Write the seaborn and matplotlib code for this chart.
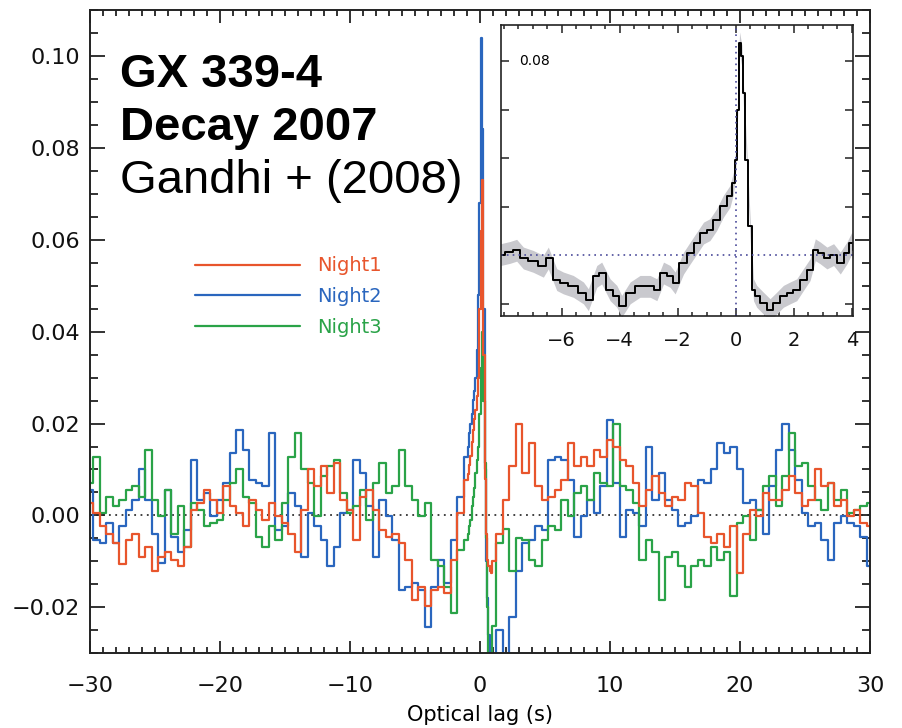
import numpy as np
import pandas as pd
import matplotlib
matplotlib.use("Agg")
import matplotlib.pyplot as plt
from matplotlib.ticker import MultipleLocator, FuncFormatter
import seaborn as sns

sns.set_style("ticks")
plt.rcParams["font.family"] = ["DejaVu Sans"]
plt.rcParams["text.color"] = "black"
plt.rcParams["axes.labelcolor"] = "black"

# lag grid (s): coarse wings, finer sampling around the peak
lag = np.round(np.concatenate([np.arange(-30, -1.25, 0.5),
                               np.arange(-1.0, 1.05, 0.1),
                               np.arange(1.5, 30.25, 0.5)]), 2)

night1 = [
    # -30 .. -1.5
    0.0027, 0.0005, -0.0024, -0.004, -0.006, -0.0105, -0.0053, -0.004, -0.009, -0.0068,
    -0.012, -0.009, -0.008, -0.0097, -0.011, -0.0068, 0.0012, 0.0027, 0.0056, 0.0034,
    0.0005, 0.0063, 0.002, 0.0005, -0.0024, 0.0034, 0.0012, -0.001, 0.0027, -0.0002,
    -0.0017, -0.004, -0.008, 0.0012, 0.010, 0.0063, 0.0107, 0.0049, 0.0114, 0.0034,
    0.0012, -0.0053, 0.0041, 0.0056, 0.0012, -0.0031, -0.0046, -0.004, -0.006, -0.0097,
    -0.0184, -0.0155, -0.0198, -0.0162, -0.0155, -0.0169, -0.0097, 0.0005,
    # -1.0 .. 1.0
    0.0078, 0.009, 0.011, 0.013, 0.016, 0.0187, 0.021, 0.023, 0.026, 0.030,
    0.045, 0.062, 0.073, 0.035, 0.008, -0.004, -0.0097, -0.011, -0.012, -0.0126, -0.010,
    # 1.5 .. 30
    -0.004, 0.0034, 0.0107, 0.020, 0.0092, 0.0158, 0.0065, 0.0034, 0.0041, 0.0056,
    0.0078, 0.0158, 0.0107, 0.0128, 0.0107, 0.0143, 0.0128, 0.0165, 0.015, 0.0121,
    0.0107, 0.007, 0.002, 0.0056, 0.0085, 0.0049, 0.002, 0.0041, 0.0034, 0.007,
    0.0063, 0.0005, -0.0046, -0.006, -0.004, -0.0068, -0.0024, -0.0126, -0.004, 0.0012,
    -0.0002, 0.0049, 0.0034, 0.0034, 0.0056, 0.0085, 0.0049, 0.002, 0.0034, 0.010,
    0.0063, 0.007, 0.002, 0.0034, -0.0002, 0.0012, -0.0017, -0.0024,
]

night2 = [
    0.0056, -0.0053, -0.006, -0.0017, -0.006, -0.0024, 0.0012, 0.0034, 0.010, 0.0034,
    -0.004, -0.0104, 0.0056, -0.0046, -0.008, -0.0031, 0.0121, 0.0034, 0.0049, -0.0002,
    0.0034, 0.007, 0.0136, 0.0187, 0.0143, 0.0078, 0.007, 0.0063, 0.018, -0.0031,
    -0.0024, 0.0049, 0.002, -0.009, 0.0005, -0.0024, -0.0053, -0.011, -0.0068, 0.0005,
    0.0012, 0.0121, 0.0092, 0.002, -0.009, 0.0034, -0.0002, -0.0053, -0.0162, -0.0155,
    -0.0147, -0.0162, -0.0242, -0.0155, -0.0097, -0.0147, -0.0053, 0.0040,
    0.0128, 0.015, 0.018, 0.020, 0.022, 0.0252, 0.027, 0.030, 0.036, 0.048,
    0.068, 0.104, 0.084, 0.045, 0.010, -0.010, -0.018, -0.026, -0.032, -0.032, -0.032,
    -0.025, -0.032, -0.022, -0.012, -0.006, -0.0053, -0.0024, -0.0031, 0.0121, 0.0128,
    0.0121, 0.0078, -0.0046, -0.0002, 0.0034, 0.0005, 0.0063, 0.0208, 0.007, -0.0046,
    0.0012, 0.0005, -0.0024, 0.015, 0.0034, 0.0092, 0.0034, 0.0012, -0.0024, -0.0017,
    -0.0002, 0.0078, 0.007, 0.010, 0.0158, 0.0136, 0.015, 0.010, 0.0027, 0.0034,
    0.0012, -0.004, 0.0063, 0.0143, 0.020, 0.0143, 0.0078, 0.0005, -0.0024, -0.0017,
    -0.0053, -0.0097, -0.0017, -0.0002, -0.0017, -0.0024, -0.0046, -0.011,
]

night3 = [
    0.007, 0.0128, 0.0005, 0.0041, 0.002, 0.0034, 0.0056, 0.0063, 0.0041, 0.0143,
    0.0034, -0.0002, 0.0056, -0.004, 0.002, -0.0068, 0.0027, 0.0012, -0.0024, -0.0017,
    -0.001, 0.0034, 0.007, 0.010, 0.0041, 0.0027, -0.0046, -0.0068, -0.0024, -0.0053,
    0.0027, 0.0128, 0.018, 0.010, 0.007, -0.0002, 0.0085, 0.0107, 0.0121, 0.0049,
    0.0005, 0.002, 0.0056, -0.001, 0.007, 0.0114, 0.0049, 0.0063, 0.0143, 0.0063,
    0.0034, -0.0002, 0.0027, -0.0097, -0.011, -0.0155, -0.0213, -0.0075,
    -0.0053, -0.004, -0.0024, -0.001, 0.002, 0.0041, 0.006, 0.0092, 0.012, 0.015,
    0.022, 0.032, 0.040, 0.025, 0.0114, -0.005, -0.020, -0.032, -0.032, -0.032, -0.024,
    -0.006, -0.003, -0.012, -0.005, -0.0053, -0.0097, -0.011, -0.0053, -0.0024, -0.0031,
    0.0034, -0.0002, 0.0049, 0.0063, 0.0034, 0.0092, 0.007, 0.0063, 0.020, 0.0063,
    0.0056, 0.0027, -0.0097, -0.0053, -0.008, -0.0184, -0.009, -0.008, -0.011, -0.0155,
    -0.011, -0.0097, -0.011, -0.0068, -0.0097, -0.008, -0.0176, -0.0017, -0.0002, -0.0053,
    0.0012, 0.0063, 0.0085, 0.002, 0.0085, 0.018, 0.0107, 0.0114, 0.0063, 0.0034,
    0.0012, 0.007, 0.0034, 0.0056, 0.0005, 0.0012, 0.002, 0.0027,
]

# inset: mean CCF (black) with its uncertainty band
inset_lag = [-8.10, -7.78, -7.55, -7.32, -6.98, -6.63, -6.46, -6.17, -5.94, -5.60,
             -5.25, -5.08, -4.79, -4.62, -4.33, -4.10, -3.93, -3.64, -3.30, -2.95,
             -2.72, -2.49, -2.26, -2.09, -1.80, -1.57, -1.34, -1.11, -0.89, -0.66,
             -0.43, -0.20, -0.08, 0.00, 0.06, 0.13, 0.21, 0.26, 0.38, 0.49,
             0.61, 0.72, 0.95, 1.18, 1.41, 1.64, 1.87, 2.10, 2.33, 2.56,
             2.74, 2.91, 3.14, 3.37, 3.60, 3.83, 4.00, 4.06]
inset_ccf = [0.0003, 0.0012, 0.0021, -0.0011, -0.0025, -0.0045, -0.0011, -0.0100, -0.0114, -0.0128,
             -0.0155, -0.0183, -0.0087, -0.0073, -0.0142, -0.0169, -0.0210, -0.0155, -0.0128, -0.0128,
             -0.0142, -0.0073, -0.0087, -0.0114, -0.0032, 0.0010, 0.0051, 0.0092, 0.0106, 0.0147,
             0.0202, 0.0243, 0.0298, 0.0395, 0.0601, 0.0876, 0.0821, 0.0670, 0.0395, 0.0120,
             -0.0142, -0.0169, -0.0197, -0.0224, -0.0197, -0.0169, -0.0155, -0.0142, -0.0100, -0.0059,
             0.0023, 0.0010, -0.0011, 0.0003, -0.0032, 0.0010, 0.0051, 0.0023]
inset_err = 0.0045

colors = {"Night1": "#E8552C", "Night2": "#2A66BE", "Night3": "#2AA348"}

df = pd.DataFrame({"lag": np.tile(lag, 3),
                   "ccf": night1 + night2 + night3,
                   "night": np.repeat(["Night1", "Night2", "Night3"], len(lag))})

fig = plt.figure(figsize=(9.03, 7.28), dpi=100)
ax = fig.add_axes([0.0997, 0.1026, 0.8638, 0.8837])

for name in ["Night2", "Night3", "Night1"]:
    sns.lineplot(data=df[df["night"] == name], x="lag", y="ccf", ax=ax,
                 color=colors[name], label=name, drawstyle="steps-mid",
                 estimator=None, lw=1.6)

ax.axhline(0, color="#333333", ls=(0, (1, 2.5)), lw=1.3, zorder=0)
ax.set_xlim(-30, 30)
ax.set_ylim(-0.03, 0.11)
ax.xaxis.set_major_locator(MultipleLocator(10))
ax.xaxis.set_minor_locator(MultipleLocator(1))
ax.yaxis.set_major_locator(MultipleLocator(0.02))
ax.yaxis.set_minor_locator(MultipleLocator(0.005))
ax.yaxis.set_major_formatter(FuncFormatter(lambda v, p: f"{v:.2f}".replace("-", "\u2212")))
ax.tick_params(axis="both", which="both", direction="in", top=True, right=True,
               width=1.3, color="#222222", labelcolor="#111111")
ax.tick_params(axis="y", which="major", length=11, labelsize=16, pad=7)
ax.tick_params(axis="y", which="minor", length=6)
ax.tick_params(axis="x", which="major", length=9, labelsize=16, pad=16)
ax.tick_params(axis="x", which="minor", length=4)
for s in ax.spines.values():
    s.set_linewidth(1.4)
    s.set_color("#222222")
ax.set_xlabel("Optical lag (s)", fontsize=15, labelpad=7)
ax.set_ylabel("")

handles, labels = ax.get_legend_handles_labels()
order = [labels.index(n) for n in ["Night1", "Night2", "Night3"]]
ax.legend([handles[i] for i in order], [labels[i] for i in order],
          loc="upper left", bbox_to_anchor=(0.122, 0.632), frameon=False,
          fontsize=14, handlelength=5.4, handletextpad=0.9, labelspacing=0.6,
          borderpad=0, labelcolor="linecolor")

fig.text(0.1329, 0.8805, "GX 339-4", fontsize=34, fontweight="bold",
         family=["Liberation Sans"], va="baseline", color="black")
fig.text(0.1329, 0.8077, "Decay 2007", fontsize=34, fontweight="bold",
         family=["Liberation Sans"], va="baseline", color="black")
fig.text(0.1329, 0.7349, "Gandhi + (2008)", fontsize=34,
         family=["Liberation Sans"], va="baseline", color="black")

# inset
axi = fig.add_axes([0.5545, 0.566, 0.3905, 0.3997])
lo = [v - inset_err for v in inset_ccf]
hi = [v + inset_err for v in inset_ccf]
axi.fill_between(inset_lag, lo, hi, color="#C9C9CE", lw=0)
sns.lineplot(x=inset_lag, y=inset_ccf, ax=axi, color="black", lw=1.4,
             drawstyle="steps-mid", estimator=None)
axi.axhline(0, color="#4A4A9A", ls=(0, (1, 2.5)), lw=1.2)
axi.axvline(0, color="#4A4A9A", ls=(0, (1, 2.5)), lw=1.2)
axi.set_xlim(-8.1, 4.05)
axi.set_ylim(-0.025, 0.095)
axi.set_xticks([-6, -4, -2, 0, 2, 4])
axi.xaxis.set_minor_locator(MultipleLocator(0.5))
axi.yaxis.set_major_locator(MultipleLocator(0.02))
axi.tick_params(axis="both", which="both", direction="in", top=True, right=True,
                width=1.1, color="#222222", labelcolor="#111111")
axi.tick_params(axis="x", which="major", length=6, labelsize=14, pad=11)
axi.tick_params(axis="x", which="minor", length=3)
axi.tick_params(axis="y", which="major", length=6, labelleft=False)
for s in axi.spines.values():
    s.set_linewidth(1.2)
    s.set_color("#222222")
axi.text(0.097, 0.08, "0.08", transform=axi.get_yaxis_transform(), fontsize=10,
         ha="center", va="center")

fig.savefig("out.png", dpi=100)
